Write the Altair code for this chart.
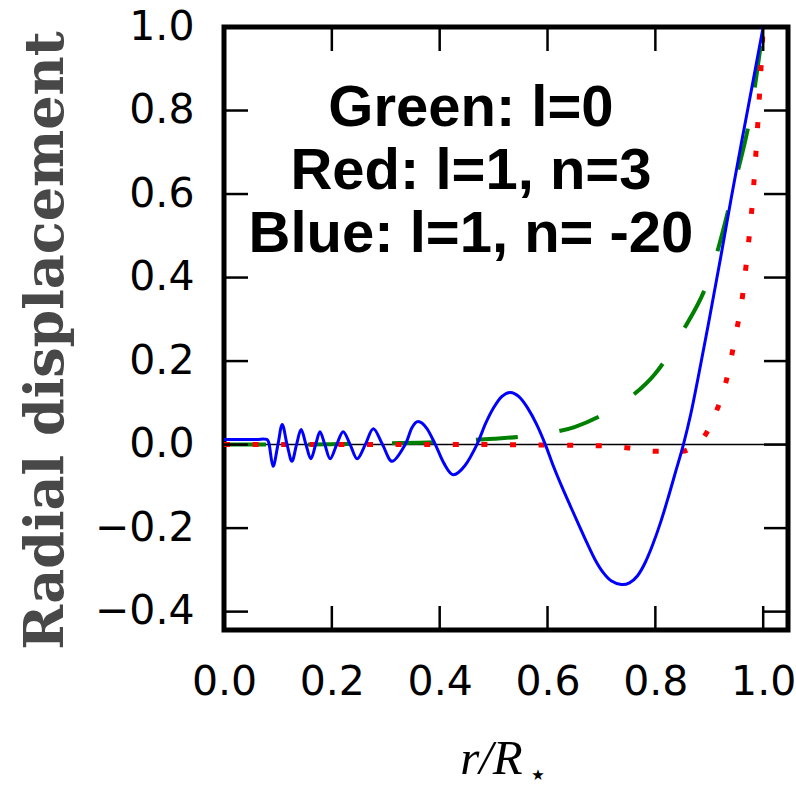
import altair as alt
import pandas as pd

# ---- data ----
green_x = [0.0, 0.1, 0.2, 0.3, 0.4, 0.45, 0.5, 0.55, 0.6, 0.65, 0.7, 0.75, 0.8, 0.85, 0.9, 0.95, 0.975, 1.0]
green_y = [0.0, 0.0, 0.001, 0.003, 0.006, 0.01, 0.014, 0.019, 0.027, 0.042, 0.07, 0.11, 0.17, 0.27, 0.40, 0.64, 0.78, 1.0]

red_x = [0.0, 0.1, 0.2, 0.3, 0.4, 0.5, 0.6, 0.7, 0.75, 0.8, 0.85, 0.87, 0.89, 0.91, 0.93, 0.95, 0.96, 0.97, 0.98, 0.99, 1.0]
red_y = [0.0, 0.0, 0.0, 0.0, 0.0, 0.0, -0.001, -0.003, -0.008, -0.016, -0.016, -0.005, 0.018, 0.07, 0.145, 0.27, 0.34, 0.45, 0.58, 0.77, 1.0]

blue_x = [0.0, 0.03, 0.06, 0.075, 0.083, 0.091, 0.1, 0.108, 0.117, 0.126, 0.1345, 0.143, 0.152, 0.161, 0.17,
          0.178, 0.187, 0.197, 0.209, 0.221, 0.234, 0.247, 0.262, 0.277, 0.294, 0.312, 0.336, 0.348, 0.36, 0.376,
          0.392, 0.408, 0.425, 0.447, 0.469, 0.485, 0.5, 0.515, 0.531, 0.547, 0.563, 0.58, 0.596,
          0.611, 0.626, 0.642, 0.658, 0.673, 0.688, 0.703, 0.718, 0.737, 0.752, 0.767, 0.781, 0.795,
          0.81, 0.824, 0.838, 0.852, 0.866, 0.88, 0.9, 0.92, 0.94, 0.96, 0.98, 1.0]
blue_y = [0.012, 0.012, 0.012, 0.013, 0.005, -0.052, 0.0, 0.048, 0.0, -0.040, 0.0, 0.036, 0.0, -0.034, 0.0,
          0.031, 0.0, -0.034, 0.0, 0.031, 0.0, -0.034, 0.0, 0.038, 0.0, -0.040, 0.0, 0.039, 0.055, 0.039,
          0.0, -0.045, -0.072, -0.05, 0.0, 0.05, 0.088, 0.115, 0.125, 0.115, 0.088, 0.048, 0.0,
          -0.052, -0.099, -0.146, -0.192, -0.235, -0.275, -0.306, -0.326, -0.335, -0.331, -0.314, -0.283, -0.240,
          -0.185, -0.126, -0.063, 0.0, 0.075, 0.165, 0.30, 0.44, 0.585, 0.725, 0.862, 1.0]

x_ticks = [0.0, 0.2, 0.4, 0.6, 0.8, 1.0]
y_ticks = [-0.4, -0.2, 0.0, 0.2, 0.4, 0.6, 0.8, 1.0]

notes = ["Green: l=0", "Red: l=1, n=3", "Blue: l=1, n= -20"]
note_x = [0.458, 0.458, 0.458]
note_y = [0.762, 0.611, 0.460]

x_title = "r/R"
x_title_sub = "\u2605"
y_title = "Radial displacement"

# ---- layout ----
W, H = 564, 603
TICK = 24

xs = alt.Scale(domain=[0, 1.046], nice=False, zero=False)
ys = alt.Scale(domain=[-0.444, 1.0], nice=False, zero=False)

x_axis = alt.Axis(values=x_ticks, format=".1f", ticks=False, domain=False, grid=False,
                  labelFont="DejaVu Sans", labelFontSize=41, labelColor="black",
                  labelPadding=32, labelFlush=False, labelOverlap=False,
                  title=x_title, titleFont="Liberation Serif", titleFontStyle="italic",
                  titleFontWeight="normal", titleFontSize=49, titleColor="black",
                  titleX=267, titleY=143, titleAlign="center", titleBaseline="alphabetic")
y_axis = alt.Axis(values=y_ticks, format=".1f", ticks=False, domain=False, grid=False,
                  labelFont="DejaVu Sans", labelFontSize=41, labelColor="black",
                  labelPadding=30, labelFlush=False, labelOverlap=False,
                  title=y_title, titleFont="DejaVu Serif", titleFontWeight="bold",
                  titleFontSize=54, titleColor="#484848", titleAngle=270,
                  titleX=-162, titleY=313, titleAlign="center", titleBaseline="alphabetic")


def X(field):
    return alt.X(field, type="quantitative", scale=xs, axis=x_axis)


def Y(field):
    return alt.Y(field, type="quantitative", scale=ys, axis=y_axis)


green_df = pd.DataFrame({"x": green_x, "y": green_y})
red_df = pd.DataFrame({"x": red_x, "y": red_y})
blue_df = pd.DataFrame({"x": blue_x, "y": blue_y})
xt_df = pd.DataFrame({"v": x_ticks})
yt_df = pd.DataFrame({"v": y_ticks})
note_df = pd.DataFrame({"t": notes, "x": note_x, "y": note_y})

zero = alt.Chart(pd.DataFrame({"y": [0.0]})).mark_rule(color="black", strokeWidth=1.5).encode(y=Y("y"))

green = alt.Chart(green_df).mark_line(color="#008000", strokeWidth=4, strokeDash=[42, 42],
                                      interpolate="monotone", strokeCap="butt").encode(x=X("x"), y=Y("y"))
red = alt.Chart(red_df).mark_line(color="#ff0000", strokeWidth=5, strokeDash=[6, 22.6],
                                  interpolate="monotone", strokeCap="butt").encode(x=X("x"), y=Y("y"))
blue = alt.Chart(blue_df).mark_line(color="#0000ff", strokeWidth=3,
                                    interpolate="cardinal").encode(x=X("x"), y=Y("y"))

tick_style = dict(color="black", strokeWidth=2.5)
t_bottom = alt.Chart(xt_df).mark_rule(**tick_style).encode(x=X("v"), y=alt.value(H), y2=alt.value(H - TICK))
t_top = alt.Chart(xt_df).mark_rule(**tick_style).encode(x=X("v"), y=alt.value(0), y2=alt.value(TICK))
t_left = alt.Chart(yt_df).mark_rule(**tick_style).encode(y=Y("v"), x=alt.value(0), x2=alt.value(TICK))
t_right = alt.Chart(yt_df).mark_rule(**tick_style).encode(y=Y("v"), x=alt.value(W), x2=alt.value(W - TICK))

note = alt.Chart(note_df).mark_text(font="Liberation Sans", fontWeight="bold", fontSize=58,
                                    color="black", align="center", baseline="alphabetic").encode(
    x=X("x"), y=Y("y"), text="t:N")

star = alt.Chart(pd.DataFrame({"t": [x_title_sub]})).mark_text(
    font="DejaVu Sans", fontSize=15, color="black", align="center", baseline="middle").encode(
    x=alt.value(314), y=alt.value(748), text="t:N")

chart = alt.layer(zero, green, red, blue, t_bottom, t_top, t_left, t_right, note, star).properties(
    width=W, height=H,
    background="white",
    autosize=alt.AutoSizeParams(type="none"),
    padding={"left": 224, "top": 27, "right": 8, "bottom": 158},
).configure_view(stroke="black", strokeWidth=5)

chart.save("out.html", embed_options={"renderer": "svg", "actions": False})
